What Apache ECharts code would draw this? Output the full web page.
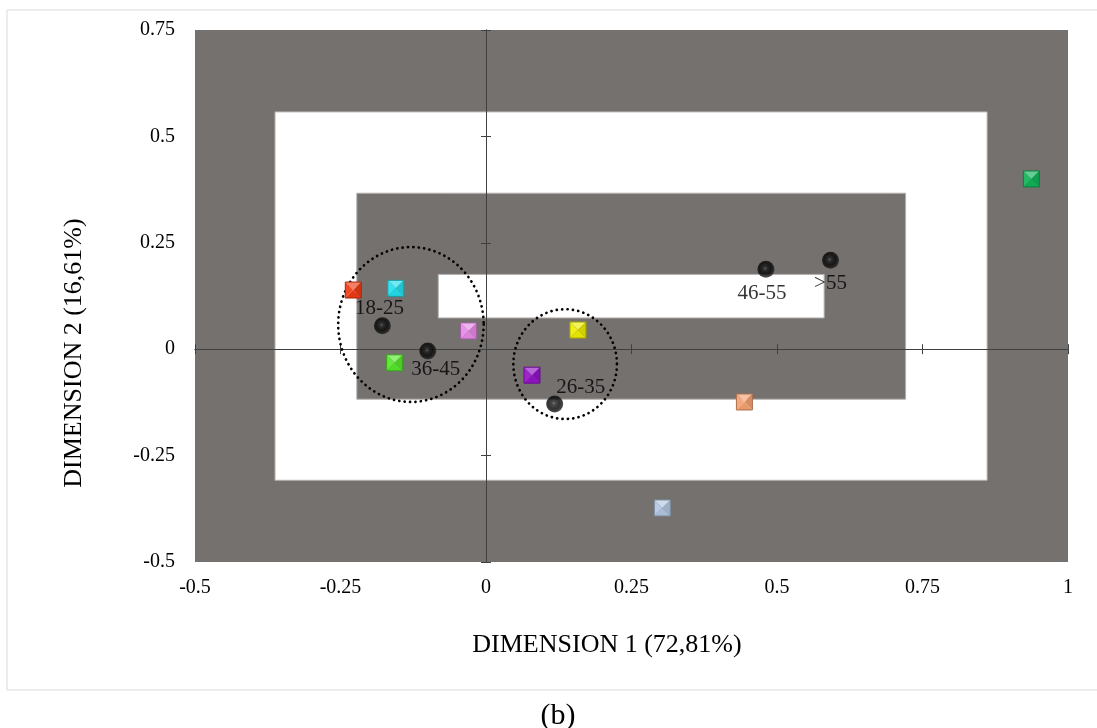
<!DOCTYPE html>
<html><head><meta charset="utf-8">
<script src="https://cdn.jsdelivr.net/npm/echarts@6/dist/echarts.min.js"></script>
<style>html,body{margin:0;padding:0;background:#fff}#c{width:1097px;height:728px}</style>
</head><body><div id="c"></div>
<script>
// ---- data ----
const xMin = -0.5, xMax = 1, xStep = 0.25;
const yMin = -0.5, yMax = 0.75, yStep = 0.25;

const ageGroups = ['18-25', '26-35', '36-45', '46-55', '>55'];
const ageX = [-0.178, 0.118, -0.100, 0.481, 0.592];
const ageY = [0.055, -0.129, -0.004, 0.188, 0.209];

const catNames = ['c1', 'c2', 'c3', 'c4', 'c5', 'c6', 'c7', 'c8', 'c9'];
const catX = [-0.228, -0.155, -0.030, -0.157, 0.158, 0.079, 0.444, 0.303, 0.937];
const catY = [0.139, 0.143, 0.043, -0.032, 0.045, -0.061, -0.124, -0.373, 0.400];

const bandX1 = [-0.5, -0.3625, -0.222, -0.082];
const bandX2 = [1.0, 0.861, 0.721, 0.581];
const bandY1 = [-0.5, -0.308, -0.1175, 0.0735];
const bandY2 = [0.75, 0.5576, 0.3665, 0.1757];

const ringCX = [-0.129, 0.136];
const ringCY = [0.058, -0.035];
const ringRX = [0.125, 0.089];
const ringRY = [0.182, 0.129];

// ---- styles ----
const FONT = 'Liberation Serif';
const bandColors = ['#75716f', '#ffffff', '#75716f', '#ffffff'];
const catColors = ['#ee3a12', '#22dfee', '#e88ae8', '#55e82a', '#eeee00', '#9412c8', '#f4a070', '#b4c8e2', '#10b457'];
const labelOffsets = {'18-25': [-3, -17], '26-35': [26, -17], '36-45': [8, 19], '46-55': [-4, 24], '>55': [0, 23]};

function shade(hex, amt) {
  const n = parseInt(hex.slice(1), 16);
  let r = (n >> 16) & 255, g = (n >> 8) & 255, b = n & 255;
  const f = c => amt >= 0 ? Math.round(c + (255 - c) * amt) : Math.round(c * (1 + amt));
  return 'rgb(' + f(r) + ',' + f(g) + ',' + f(b) + ')';
}

const chart = echarts.init(document.getElementById('c'), null, {renderer: 'canvas'});

const tickAxisX = (inside) => ({
  type: 'value', min: xMin, max: xMax, interval: xStep, position: 'bottom', z: 5,
  axisLine: {show: true, onZero: true, onZeroAxisIndex: 0, lineStyle: {color: '#404040', width: 1}},
  axisTick: {show: true, inside: inside, length: 5, lineStyle: {color: '#404040', width: 1}},
  axisLabel: {show: false}, splitLine: {show: false}
});
const tickAxisY = (inside) => ({
  type: 'value', min: yMin, max: yMax, interval: yStep, position: 'left', z: 5,
  axisLine: {show: true, onZero: true, onZeroAxisIndex: 0, lineStyle: {color: '#404040', width: 1}},
  axisTick: {show: true, inside: inside, length: 5, lineStyle: {color: '#404040', width: 1}},
  axisLabel: {show: false}, splitLine: {show: false}
});

const option = {
  animation: false,
  backgroundColor: '#ffffff',
  grid: {left: 195, top: 30, width: 873, height: 532, containLabel: false},
  xAxis: [
    {type: 'value', min: xMin, max: xMax, interval: xStep, position: 'bottom',
     axisLine: {show: false, onZero: false}, axisTick: {show: false}, splitLine: {show: false},
     axisLabel: {fontFamily: FONT, fontSize: 20, color: '#000', margin: 16}},
    tickAxisX(false), tickAxisX(true)
  ],
  yAxis: [
    {type: 'value', min: yMin, max: yMax, interval: yStep, position: 'left',
     axisLine: {show: false, onZero: false}, axisTick: {show: false}, splitLine: {show: false},
     axisLabel: {fontFamily: FONT, fontSize: 20, color: '#000', margin: 20}},
    tickAxisY(false), tickAxisY(true)
  ],
  graphic: [
    {type: 'rect', silent: true, z: -10, shape: {x: 7, y: 10, width: 1095, height: 680},
     style: {fill: 'none', stroke: '#d9d9d9', lineWidth: 1}},
    {type: 'text', silent: true, x: 607, y: 645,
     style: {text: 'DIMENSION 1 (72,81%)', font: '26px "Liberation Serif"', fill: '#000', textAlign: 'center', textVerticalAlign: 'middle'}},
    {type: 'text', silent: true, x: 74, y: 353, rotation: Math.PI / 2,
     style: {text: 'DIMENSION 2 (16,61%)', font: '26px "Liberation Serif"', fill: '#000', textAlign: 'center', textVerticalAlign: 'middle'}},
    {type: 'text', silent: true, x: 558, y: 716,
     style: {text: '(b)', font: '30px "Liberation Serif"', fill: '#000', textAlign: 'center', textVerticalAlign: 'middle'}}
  ],
  series: [
    {
      type: 'custom', z: 1, silent: true, clip: false,
      data: bandX1.map((v, i) => [bandX1[i], bandY1[i], bandX2[i], bandY2[i]]),
      renderItem: (params, api) => {
        const p1 = api.coord([api.value(0), api.value(1)]);
        const p2 = api.coord([api.value(2), api.value(3)]);
        const i = params.dataIndex;
        return {type: 'rect', shape: {x: p1[0], y: p2[1], width: p2[0] - p1[0], height: p1[1] - p2[1]},
          style: {fill: bandColors[i], stroke: i === 0 ? null : '#b5b2b1', lineWidth: i === 0 ? 0 : 1}};
      }
    },
    {
      type: 'custom', z: 8, silent: true, clip: false,
      data: ringCX.map((v, i) => [ringCX[i], ringCY[i], ringRX[i], ringRY[i]]),
      renderItem: (params, api) => {
        const c = api.coord([api.value(0), api.value(1)]);
        const s = api.size([api.value(2), api.value(3)]);
        const pts = [];
        for (let k = 0; k < 120; k++) {
          const a = k / 120 * Math.PI * 2;
          pts.push([c[0] + s[0] * Math.cos(a), c[1] + s[1] * Math.sin(a)]);
        }
        return {type: 'polygon', shape: {points: pts},
          style: {fill: 'none', stroke: '#000', lineWidth: 2.7, lineDash: [0.1, 5.3], lineCap: 'round'}};
      }
    },
    {
      type: 'custom', z: 10, silent: true, clip: false,
      data: catX.map((v, i) => [catX[i], catY[i]]),
      renderItem: (params, api) => {
        const c = api.coord([api.value(0), api.value(1)]);
        const col = catColors[params.dataIndex];
        const h = 8;
        const tl = [c[0] - h, c[1] - h], tr = [c[0] + h, c[1] - h], br = [c[0] + h, c[1] + h], bl = [c[0] - h, c[1] + h];
        const ctr = [c[0], c[1]];
        return {type: 'group', children: [
          {type: 'polygon', shape: {points: [tl, tr, ctr]}, style: {fill: shade(col, 0.35)}},
          {type: 'polygon', shape: {points: [bl, tl, ctr]}, style: {fill: shade(col, 0.08)}},
          {type: 'polygon', shape: {points: [tr, br, ctr]}, style: {fill: shade(col, -0.12)}},
          {type: 'polygon', shape: {points: [br, bl, ctr]}, style: {fill: shade(col, -0.05)}},
          {type: 'rect', shape: {x: tl[0], y: tl[1], width: 2 * h, height: 2 * h},
           style: {fill: 'none', stroke: shade(col, -0.3), lineWidth: 1}}
        ]};
      }
    },
    {
      type: 'scatter', z: 11, silent: true,
      symbol: 'circle', symbolSize: 17,
      itemStyle: {
        color: new echarts.graphic.RadialGradient(0.45, 0.45, 0.55, [
          {offset: 0, color: '#5a5a5a'}, {offset: 0.2, color: '#1c1c1c'},
          {offset: 0.6, color: '#000'}, {offset: 0.85, color: '#111'}, {offset: 1, color: '#2a2a2a'}
        ])
      },
      label: {show: true, position: 'inside', formatter: '{b}', fontFamily: FONT, fontSize: 21, color: '#000'},
      data: ageGroups.map((g, i) => ({name: g, value: [ageX[i], ageY[i]], label: {offset: labelOffsets[g]}}))
    }
  ]
};
chart.setOption(option);
</script>
</body></html>
